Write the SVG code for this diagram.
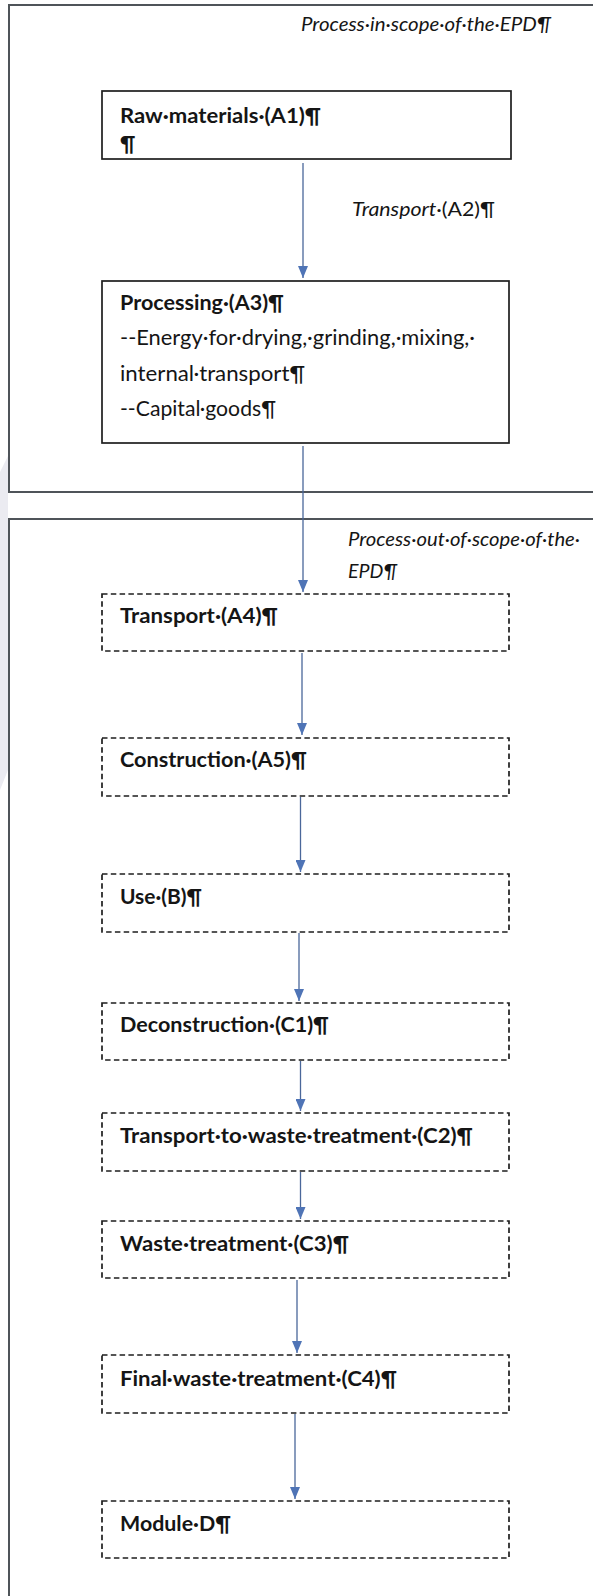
<svg xmlns="http://www.w3.org/2000/svg" width="593" height="1596" viewBox="0 0 593 1596">
<style>
.bg{fill:#ffffff}
.frame{fill:none;stroke:#4f5459;stroke-width:2}
.solid{fill:#ffffff;stroke:#1e1e1e;stroke-width:1.7}
.dash{fill:#ffffff;stroke:#1e1e1e;stroke-width:1.7;stroke-dasharray:5.5 3.3}
.b{font-family:Lato,"Open Sans","Liberation Sans",sans-serif;font-weight:bold;font-size:21px;fill:#151515}
.r{font-family:Lato,"Open Sans","Liberation Sans",sans-serif;font-size:21px;fill:#151515}
.i{font-family:Lato,"Open Sans","Liberation Sans",sans-serif;font-style:italic;font-size:19px;fill:#151515}
.conn{stroke:#4a679a;stroke-width:1.3;fill:none;marker-end:url(#ah)}
</style>
<defs>
<marker id="ah" viewBox="0 0 12 10" refX="12" refY="5" markerWidth="12" markerHeight="10" markerUnits="userSpaceOnUse" orient="auto">
<path d="M0,0 L12,5 L0,10 z" fill="#4f74b6"/>
</marker>
</defs>
<rect class="bg" x="0" y="0" width="593" height="1596"/>
<polygon points="0,472 8,456 8,770 0,790" fill="#ebebf1"/>

<g id="scope-in">
<rect class="frame" x="9" y="5" width="600" height="487"/>
<text class="i" x="301" y="31" textLength="250" lengthAdjust="spacingAndGlyphs">Process·in·scope·of·the·EPD¶</text>
</g>
<g id="scope-out">
<rect class="frame" x="9" y="519" width="600" height="1100"/>
<text class="i" x="348" y="546" textLength="232" lengthAdjust="spacingAndGlyphs">Process·out·of·scope·of·the·</text>
<text class="i" x="348" y="578" textLength="49" lengthAdjust="spacingAndGlyphs">EPD¶</text>
</g>

<g id="connectors">
<line class="conn" x1="303" y1="163" x2="303" y2="278"/>
<line class="conn" x1="303" y1="446" x2="303" y2="592"/>
<line class="conn" x1="302" y1="653" x2="302" y2="735"/>
<line class="conn" x1="300.5" y1="797" x2="300.5" y2="872"/>
<line class="conn" x1="299" y1="933" x2="299" y2="1001"/>
<line class="conn" x1="300.5" y1="1061" x2="300.5" y2="1111"/>
<line class="conn" x1="300.5" y1="1172" x2="300.5" y2="1219"/>
<line class="conn" x1="297" y1="1280" x2="297" y2="1353"/>
<line class="conn" x1="295" y1="1414" x2="295" y2="1499"/>
</g>
<g id="transport-a2">
<text class="i" x="352" y="216" textLength="143" lengthAdjust="spacingAndGlyphs"><tspan>Transport</tspan><tspan font-style="normal">·(A2)¶</tspan></text>
</g>

<g id="raw-materials">
<rect class="solid" x="102" y="91" width="409" height="68"/>
<text class="b" x="120" y="123" textLength="201" lengthAdjust="spacingAndGlyphs">Raw·materials·(A1)¶</text>
<text class="b" x="120" y="151" font-size="9">¶</text>
</g>
<g id="processing">
<rect class="solid" x="102" y="281" width="407" height="162"/>
<text class="b" x="120" y="310" textLength="164" lengthAdjust="spacingAndGlyphs">Processing·(A3)¶</text>
<text class="r" x="120" y="345" textLength="355" lengthAdjust="spacingAndGlyphs">--Energy·for·drying,·grinding,·mixing,·</text>
<text class="r" x="120" y="381" textLength="185" lengthAdjust="spacingAndGlyphs">internal·transport¶</text>
<text class="r" x="120" y="416" textLength="156" lengthAdjust="spacingAndGlyphs">--Capital·goods¶</text>
</g>

<g id="transport-a4">
<rect class="dash" x="102" y="594" width="407" height="57"/>
<text class="b" x="120" y="623" textLength="158" lengthAdjust="spacingAndGlyphs">Transport·(A4)¶</text>
</g>
<g id="construction-a5">
<rect class="dash" x="102" y="738" width="407" height="58"/>
<text class="b" x="120" y="767" textLength="187" lengthAdjust="spacingAndGlyphs">Construction·(A5)¶</text>
</g>
<g id="use-b">
<rect class="dash" x="102" y="874" width="407" height="58"/>
<text class="b" x="120" y="904" textLength="82" lengthAdjust="spacingAndGlyphs">Use·(B)¶</text>
</g>
<g id="deconstruction-c1">
<rect class="dash" x="102" y="1003" width="407" height="57"/>
<text class="b" x="120" y="1032" textLength="209" lengthAdjust="spacingAndGlyphs">Deconstruction·(C1)¶</text>
</g>
<g id="transport-c2">
<rect class="dash" x="102" y="1113" width="407" height="58"/>
<text class="b" x="120" y="1143" textLength="353" lengthAdjust="spacingAndGlyphs">Transport·to·waste·treatment·(C2)¶</text>
</g>
<g id="waste-c3">
<rect class="dash" x="102" y="1221" width="407" height="57"/>
<text class="b" x="120" y="1251" textLength="229" lengthAdjust="spacingAndGlyphs">Waste·treatment·(C3)¶</text>
</g>
<g id="final-waste-c4">
<rect class="dash" x="102" y="1355" width="407" height="58"/>
<text class="b" x="120" y="1386" textLength="277" lengthAdjust="spacingAndGlyphs">Final·waste·treatment·(C4)¶</text>
</g>
<g id="module-d">
<rect class="dash" x="102" y="1501" width="407" height="57"/>
<text class="b" x="120" y="1531" textLength="111" lengthAdjust="spacingAndGlyphs">Module·D¶</text>
</g>
</svg>
